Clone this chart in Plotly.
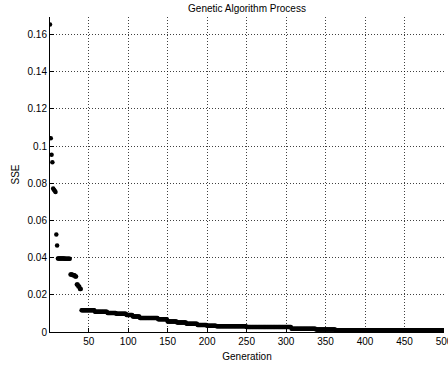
import numpy as np
import plotly.graph_objects as go

# Generations at which the best SSE changed, and the new best SSE
step_gens = [1, 2, 3, 4, 5, 6, 7, 8, 9, 10, 11, 20, 27, 30, 33, 35, 37, 39,
             41, 58, 74, 85, 98, 106, 115, 138, 150, 162, 174, 188, 200, 212,
             250, 307, 338, 363]
step_sse = [0.1654, 0.1043, 0.0954, 0.0913, 0.0772, 0.0766, 0.0760, 0.0754,
            0.0524, 0.0465, 0.0396, 0.0394, 0.0309, 0.0305, 0.0298, 0.0255,
            0.0245, 0.0232, 0.0117, 0.0109, 0.0102, 0.0098, 0.0092, 0.0084,
            0.0075, 0.0068, 0.0056, 0.0051, 0.0045, 0.0038, 0.0033, 0.0031,
            0.0027, 0.0018, 0.0013, 0.0010]
n_generations = 500

x_ticks = [50, 100, 150, 200, 250, 300, 350, 400, 450, 500]
y_ticks = [0, 0.02, 0.04, 0.06, 0.08, 0.1, 0.12, 0.14, 0.16]
y_tick_text = ["0", "0.02", "0.04", "0.06", "0.08", "0.1", "0.12", "0.14", "0.16"]

# best-so-far value held for every generation
gens = np.arange(1, n_generations + 1)
idx = np.searchsorted(step_gens, gens, side="right") - 1
sse = np.array(step_sse)[idx]

font = "Liberation Sans, Arial, sans-serif"

fig = go.Figure()
fig.add_trace(go.Scatter(
    x=gens, y=sse, mode="markers",
    marker=dict(color="black", size=4.5, symbol="circle", line=dict(width=0)),
    showlegend=False,
))

axis_common = dict(
    showline=True, linecolor="black", linewidth=1,
    ticks="inside", ticklen=4, tickcolor="black", tickwidth=1,
    showgrid=True, gridcolor="rgba(0,0,0,0.75)", gridwidth=1, griddash="1px,2px",
    zeroline=False, mirror=False, ticklabeloverflow="allow",
    tickfont=dict(family=font, size=10, color="black"),
)

fig.update_layout(
    width=448, height=368,
    margin=dict(l=50, r=4, t=17, b=36, autoexpand=False),
    paper_bgcolor="white", plot_bgcolor="white",
    title=dict(text="Genetic Algorithm Process", x=0.5, xref="paper",
               y=1 - 8 / 368, yanchor="middle",
               font=dict(family=font, size=10, color="black")),
    xaxis=dict(range=[1, 500], tickvals=x_ticks, automargin=False,
               title=dict(text="Generation", standoff=6,
                          font=dict(family=font, size=10, color="black")),
               **axis_common),
    yaxis=dict(range=[0, 0.1695], tickvals=y_ticks, ticktext=y_tick_text,
               automargin=False,
               title=dict(text="SSE", standoff=6,
                          font=dict(family=font, size=10, color="black")),
               **axis_common),
)

fig.write_html(
    "out.html",
    config={"displayModeBar": False},
    post_script="document.body.style.margin='0';document.body.style.overflow='hidden';",
)
